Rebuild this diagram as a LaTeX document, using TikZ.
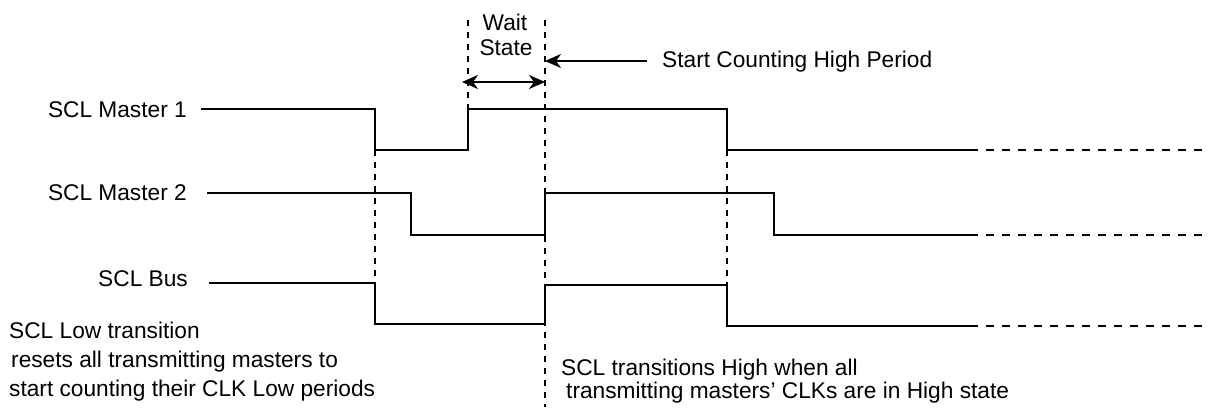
\documentclass[tikz,border=0pt]{standalone}
\usepackage{fontspec}
\setmainfont{Liberation Sans}
\usetikzlibrary{arrows.meta, positioning, calc}

\begin{document}
\begin{tikzpicture}[x=1pt, y=-1pt,
    signal/.style={line width=2pt},
    guide/.style={line width=2pt, dash pattern=on 6pt off 6pt},
    tail/.style={line width=2pt, dash pattern=on 8pt off 8pt},
    lbl/.style={font=\fontsize{22.7}{27}\selectfont, inner sep=0pt},
    tip/.style={line width=2pt, arrows={-Stealth[length=16pt, width=14pt, inset=5pt]}},
    tips/.style={line width=2pt, arrows={Stealth[length=16pt, width=14pt, inset=5pt]-Stealth[length=16pt, width=14pt, inset=5pt]}}]
  \useasboundingbox (0,0) rectangle (1209,407);
  % signal names
  \node[lbl, anchor=base east] (m1) at (187,117) {SCL Master 1};
  \node[lbl, anchor=base east] (m2) at (187,200) {SCL Master 2};
  \node[lbl, anchor=base east] (bus) at (188,286) {SCL Bus};
  % waveforms
  \draw[signal] (201,109) -- (375,109) -- (375,150) -- (468,150) -- (468,109) -- (727,109) -- (727,150) -- (970,150);
  \draw[signal] (207,193) -- (411,193) -- (411,235) -- (545,235) -- (545,193) -- (774,193) -- (774,235) -- (970,235);
  \draw[signal] (209,283) -- (375,283) -- (375,324) -- (545,324) -- (545,285) -- (727,285) -- (727,326) -- (970,326);
  \draw[tail] (970,150) -- (1205,150);
  \draw[tail] (970,235) -- (1205,235);
  \draw[tail] (970,326) -- (1205,326);
  % guide lines
  \coordinate (waitL) at (468,20);
  \coordinate (waitR) at (545,20);
  \draw[guide] (375,150) -- (375,283);
  \draw[guide] (waitL) -- (468,109);
  \draw[guide] (waitR) -- (545,407);
  \draw[guide] (727,150) -- (727,285);
  % wait state
  \node[lbl, anchor=base] (wait) at (505,30) {Wait};
  \node[lbl, anchor=base] (state) at (506,55) {State};
  \coordinate (wl) at (462,82);
  \coordinate (wr) at (545,82);
  \draw[tips] (wl) -- (wr);
  % high period
  \node[lbl, anchor=base west] (count) at (662,67) {Start Counting High Period};
  \coordinate (cs) at (647,61);
  \draw[tip] (cs) -- (waitR |- cs);
  % notes
  \node[lbl, anchor=base west] (low1) at (9,338) {SCL Low transition};
  \node[lbl, anchor=base west] (low2) at (11,367) {resets all transmitting masters to};
  \node[lbl, anchor=base west] (low3) at (9,396) {start counting their CLK Low periods};
  \node[lbl, anchor=base west] (high1) at (561,375) {SCL transitions High when all};
  \node[lbl, anchor=base west] (high2) at (566,398) {transmitting masters’ CLKs are in High state};
\end{tikzpicture}
\end{document}
